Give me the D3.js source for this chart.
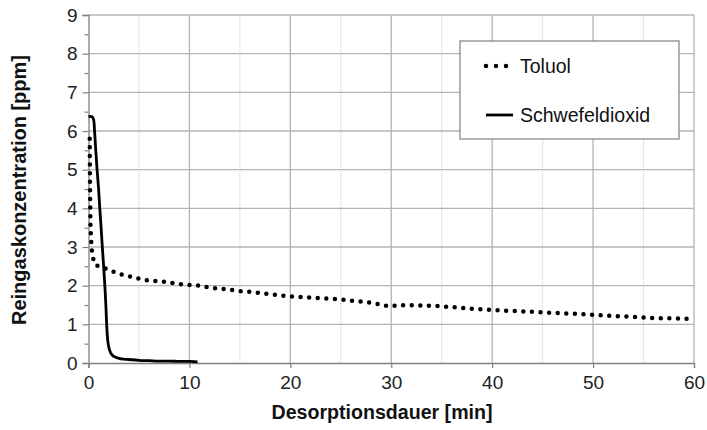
<!DOCTYPE html>
<html>
<head>
<meta charset="utf-8">
<script src="https://cdn.jsdelivr.net/npm/d3@7"></script>
<style>
  body { margin: 0; background: #fff; }
  text { font-family: "Liberation Sans", Arial, sans-serif; }
</style>
</head>
<body>
<div id="chart"></div>
<script>
// Toluol (dotted) - [min, ppm]
const toluol = [
  [0.12, 5.8], [0.15, 4.5], [0.2, 3.5], [0.3, 3.0], [0.4, 2.75], [0.7, 2.53],
  [1.47, 2.47], [2.3, 2.38], [3.1, 2.3], [3.95, 2.25], [4.8, 2.19], [6, 2.13],
  [7, 2.12], [8, 2.08], [9, 2.04], [10, 2.02], [11, 2.0], [12, 1.95],
  [13, 1.92], [14, 1.9], [15, 1.86], [16, 1.84], [17, 1.81], [18, 1.78],
  [19, 1.75], [20, 1.72], [21.3, 1.7], [24.7, 1.65], [28, 1.56], [29.7, 1.47],
  [31.4, 1.5], [34.8, 1.47], [38.2, 1.4], [41.6, 1.35], [45, 1.31],
  [48.4, 1.27], [51.9, 1.22], [55.3, 1.17], [59.6, 1.14]
];

// Schwefeldioxid (solid) - [min, ppm]
const schwefeldioxid = [
  [0, 6.37], [0.35, 6.37], [0.5, 6.3], [0.6, 6.0], [0.72, 5.5], [0.85, 5.0],
  [1.0, 4.5], [1.12, 4.0], [1.25, 3.5], [1.37, 3.0], [1.5, 2.5], [1.62, 2.0],
  [1.72, 1.5], [1.8, 1.0], [1.9, 0.6], [2.02, 0.4], [2.2, 0.26], [2.5, 0.17],
  [3.0, 0.12], [3.5, 0.1], [4, 0.09], [5, 0.07], [6, 0.06], [7, 0.05],
  [8, 0.05], [9, 0.04], [10, 0.04], [10.8, 0.03]
];

const xTicks = [0, 10, 20, 30, 40, 50, 60];
const xMinor = [5, 15, 25, 35, 45, 55];
const yTicks = [0, 1, 2, 3, 4, 5, 6, 7, 8, 9];
const yMinor = [0.5, 1.5, 2.5, 3.5, 4.5, 5.5, 6.5, 7.5, 8.5];
const legendItems = ["Toluol", "Schwefeldioxid"];

const W = 707, H = 430;
const margin = {top: 15, right: 13, bottom: 67, left: 88.5};
const width = W - margin.left - margin.right;
const height = H - margin.top - margin.bottom;

const svg = d3.select("#chart")
  .append("svg")
  .attr("width", W)
  .attr("height", H);

const g = svg.append("g")
  .attr("transform", `translate(${margin.left},${margin.top})`);

const x = d3.scaleLinear().domain([0, 60]).range([0, width]);
const y = d3.scaleLinear().domain([0, 9]).range([height, 0]);

// minor vertical grid (dotted)
g.append("g").selectAll("line")
  .data(xMinor)
  .enter().append("line")
  .attr("x1", d => x(d)).attr("x2", d => x(d))
  .attr("y1", 0).attr("y2", height)
  .attr("stroke", "#c8c8c8")
  .attr("stroke-width", 1)
  .attr("stroke-dasharray", "1,1");

// major vertical grid
g.append("g").selectAll("line")
  .data(xTicks.slice(1))
  .enter().append("line")
  .attr("x1", d => x(d)).attr("x2", d => x(d))
  .attr("y1", 0).attr("y2", height)
  .attr("stroke", "#b4b4b4")
  .attr("stroke-width", 1.3);

// horizontal grid
g.append("g").selectAll("line")
  .data(yTicks.slice(1))
  .enter().append("line")
  .attr("x1", 0).attr("x2", width)
  .attr("y1", d => y(d)).attr("y2", d => y(d))
  .attr("stroke", "#b4b4b4")
  .attr("stroke-width", 1.3);

// axes
const xAxis = g.append("g")
  .attr("transform", `translate(0,${height})`)
  .call(d3.axisBottom(x).tickValues(xTicks).tickSize(5).tickPadding(8).tickFormat(d3.format("d")));
const yAxis = g.append("g")
  .call(d3.axisLeft(y).tickValues(yTicks).tickSize(6).tickPadding(5).tickFormat(d3.format("d")));
g.append("g")
  .call(d3.axisLeft(y).tickValues(yMinor).tickSize(4).tickFormat(""))
  .select(".domain").remove();

[xAxis, yAxis].forEach(a => {
  a.select(".domain").attr("stroke", "#808080").attr("stroke-width", 1.3);
  a.selectAll("text").attr("font-size", 19).attr("fill", "#222")
    .attr("font-family", "Liberation Sans, Arial, sans-serif");
});
g.selectAll(".tick line").attr("stroke", "#808080").attr("stroke-width", 1.2);

// lines
const line = d3.line()
  .x(d => x(d[0]))
  .y(d => y(d[1]));

g.append("path")
  .datum(toluol)
  .attr("fill", "none")
  .attr("stroke", "#000")
  .attr("stroke-width", 4.5)
  .attr("stroke-linecap", "round")
  .attr("stroke-dasharray", "0,8.6")
  .attr("d", line);

g.append("path")
  .datum(schwefeldioxid)
  .attr("fill", "none")
  .attr("stroke", "#000")
  .attr("stroke-width", 2.8)
  .attr("stroke-linejoin", "round")
  .attr("d", line.curve(d3.curveCatmullRom.alpha(0.5)));

// axis titles
svg.append("text")
  .attr("transform", "translate(26,190) rotate(-90)")
  .attr("text-anchor", "middle")
  .attr("font-size", 19.5)
  .attr("font-weight", "bold")
  .attr("fill", "#111")
  .attr("textLength", 270)
  .attr("lengthAdjust", "spacingAndGlyphs")
  .text("Reingaskonzentration [ppm]");

svg.append("text")
  .attr("x", 382)
  .attr("y", 419)
  .attr("text-anchor", "middle")
  .attr("font-size", 19.5)
  .attr("font-weight", "bold")
  .attr("fill", "#111")
  .attr("textLength", 221)
  .attr("lengthAdjust", "spacingAndGlyphs")
  .text("Desorptionsdauer [min]");

// legend
const legend = svg.append("g").attr("transform", "translate(460,41)");
legend.append("rect")
  .attr("width", 219)
  .attr("height", 98)
  .attr("fill", "#fff")
  .attr("stroke", "#808080")
  .attr("stroke-width", 1.2);

const item = legend.selectAll(".item")
  .data(legendItems)
  .enter().append("g")
  .attr("transform", (d, i) => `translate(0,${25 + i * 49})`);

item.append("line")
  .attr("x1", 26)
  .attr("x2", d => d === "Toluol" ? 48 : 53)
  .attr("stroke", "#000")
  .attr("stroke-width", d => d === "Toluol" ? 4.5 : 2.8)
  .attr("stroke-linecap", d => d === "Toluol" ? "round" : "butt")
  .attr("stroke-dasharray", d => d === "Toluol" ? "0,10" : null);

item.append("text")
  .attr("x", 60)
  .attr("y", 7)
  .attr("font-size", 19.5)
  .attr("fill", "#111")
  .text(d => d);
</script>
</body>
</html>
